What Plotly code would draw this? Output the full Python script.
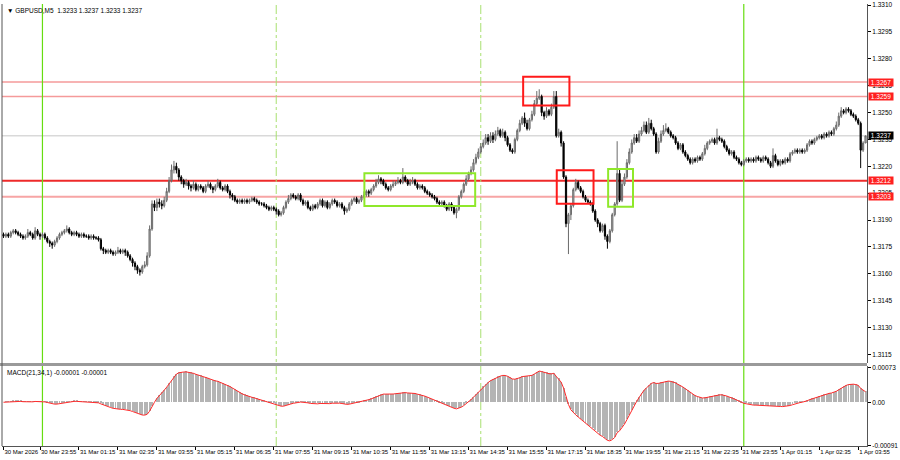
import plotly.graph_objects as go
import pandas as pd
import numpy as np

# ---------------- data ----------------
symbol_title = "▼ GBPUSD,M5  1.3233 1.3237 1.3233 1.3237"
macd_title = "MACD(21,34,1) -0.00001 -0.00001"
start_time = "2026-03-30 22:40"
bar_minutes = 5
first_open_pips = 182          # price = 1.3 + pips/10000

close_pips = [
    181,182,181,183,184,183,182,181,180,181,183,182,180,184,182,181,182,
    180,178,177,176,178,180,182,183,184,185,183,182,183,182,181,182,181,181,180,181,180,180,179,
    174,173,172,173,172,171,172,173,172,173,172,170,168,166,164,162,161,164,165,170,
    185,199,197,200,199,198,201,206,212,218,220,218,214,212,210,211,209,208,210,207,
    209,208,206,209,210,208,207,209,211,208,207,209,206,204,203,201,200,201,200,201,
    200,201,202,201,200,199,199,198,197,196,197,196,195,193,194,197,200,202,204,203,
    202,204,201,199,200,197,196,198,197,199,201,198,200,197,199,201,200,198,199,197,
    195,196,199,201,202,200,201,203,204,206,205,207,209,211,213,212,210,208,207,209,
    210,211,212,211,214,212,210,211,212,210,208,209,208,206,205,204,203,202,200,199,
    200,198,196,199,197,194,196,203,206,210,213,216,218,222,225,228,231,233,236,234,
    237,235,238,240,237,239,236,232,229,228,235,240,244,247,244,241,246,249,255,258,
    259,250,248,251,249,253,259,237,239,233,214,188,193,198,207,211,208,206,203,201,
    200,199,195,190,188,184,187,181,178,184,193,199,216,201,210,214,222,228,233,236,
    234,238,240,243,239,244,241,238,228,234,238,240,241,239,237,236,233,230,232,228,
    226,224,222,224,223,225,224,227,230,233,234,235,233,236,235,234,231,229,227,228,
    225,224,222,221,223,224,223,224,223,225,224,223,225,224,222,220,226,223,221,223,
    222,224,223,227,228,229,228,229,228,229,232,234,233,235,236,237,236,238,237,239,
    238,241,243,248,251,250,252,251,249,248,246,244,229,233,237,
]

wick_up_pips = [
    1,1,1,1,1,1,1,1,1,1,2,1,1,2,1,1,1,1,1,1,
    1,1,1,1,1,1,2,1,1,1,1,1,1,1,1,1,1,1,1,1,
    1,1,1,1,1,1,1,2,1,1,1,1,1,1,1,1,1,1,2,2,
    2,2,2,2,2,2,2,2,2,3,3,2,1,1,1,2,1,1,2,1,
    1,1,1,1,2,1,1,1,2,1,1,1,1,1,1,1,1,1,1,1,
    1,1,1,1,1,1,1,1,1,1,1,1,1,1,1,1,1,2,1,1,
    1,1,1,1,1,1,1,1,1,1,1,1,1,1,1,1,1,1,1,1,
    1,1,1,1,1,1,1,1,2,1,1,1,1,2,2,1,1,1,1,1,
    2,1,2,1,5,1,1,2,2,1,1,1,1,1,1,1,1,1,1,1,
    1,1,1,1,1,1,1,1,1,1,2,1,2,2,2,2,2,2,2,2,
    2,2,2,2,1,2,1,1,1,1,1,1,2,1,3,2,1,2,2,4,
    4,1,1,2,1,2,3,3,2,1,1,1,1,1,1,2,1,1,1,1,
    1,1,1,1,1,1,1,1,1,1,1,1,18,2,2,2,2,2,2,2,
    2,2,2,2,2,3,2,1,1,2,2,3,3,1,1,1,1,1,1,1,
    1,1,1,1,1,1,1,1,2,1,1,1,1,5,1,1,1,1,1,1,
    1,1,1,1,1,1,1,1,1,1,1,1,1,1,1,1,4,1,1,1,
    1,1,1,1,1,1,1,1,1,1,1,1,1,1,1,1,1,1,1,1,
    1,1,2,2,2,1,1,1,1,1,1,1,1,1,0,
]

wick_dn_pips = [
    1,1,1,1,1,1,1,1,1,1,1,1,1,1,1,2,1,1,1,2,
    2,1,1,1,1,1,1,1,1,1,1,1,1,1,1,1,1,1,1,1,
    1,2,1,1,1,1,1,1,1,1,2,1,1,2,2,2,2,1,1,1,
    1,1,2,2,2,2,1,1,1,1,2,2,2,2,2,1,2,2,1,1,
    1,1,1,1,1,1,2,1,1,1,1,1,1,2,2,1,1,1,1,1,
    1,1,1,1,1,1,1,1,1,1,1,1,2,1,1,1,1,1,1,1,
    1,1,1,1,1,1,1,1,1,1,1,1,1,1,1,1,1,1,1,1,
    2,1,1,1,1,1,1,1,1,1,2,1,1,1,1,2,1,1,1,1,
    1,1,1,1,1,1,1,1,1,1,1,1,1,1,1,1,1,1,1,1,
    1,1,1,1,2,1,3,1,1,1,1,1,1,1,1,1,1,1,1,2,
    1,2,1,1,1,1,2,1,1,1,1,1,1,1,2,1,1,1,1,1,
    1,2,2,1,1,1,1,1,1,2,1,2,17,3,1,1,1,1,1,1,
    1,1,1,1,2,1,1,2,4,1,1,1,1,1,1,1,1,1,1,1,
    1,1,1,1,1,1,1,1,1,1,1,1,1,1,1,1,1,1,1,1,
    1,1,1,1,1,1,1,1,1,1,1,1,1,1,1,1,1,1,1,1,
    1,1,1,1,1,1,1,1,1,1,1,1,1,1,1,1,1,1,1,1,
    1,1,1,1,1,1,1,1,1,1,1,1,1,1,1,1,1,1,1,1,
    1,1,1,1,1,1,1,1,1,1,1,1,10,1,0,
]

level_prices = [1.3267, 1.3259, 1.3212, 1.3203]
level_labels = ["1.3267", "1.3259", "1.3212", "1.3203"]
current_price = 1.3237
current_label = "1.3237"
price_ticks = [1.3310, 1.3295, 1.3280, 1.3265, 1.3250, 1.3235, 1.3220,
               1.3205, 1.3190, 1.3175, 1.3160, 1.3145, 1.3130, 1.3115]
macd_ticks = [0.00073, 0.0, -0.00091]
macd_tick_text = ["0.00073", "0.00", "-0.00091"]
day_separators = ["2026-03-31 00:00", "2026-04-01 00:00"]
session_markers = ["2026-03-31 08:00", "2026-03-31 15:00"]

N = len(close_pips)
assert len(wick_up_pips) == N and len(wick_dn_pips) == N, (N, len(wick_up_pips), len(wick_dn_pips))

# ---------------- build OHLC ----------------
times = pd.date_range(start_time, periods=N, freq=f"{bar_minutes}min")
c_p = np.array(close_pips, dtype=float)
o_p = np.concatenate([[first_open_pips], c_p[:-1]])
h_p = np.maximum(o_p, c_p) + np.array(wick_up_pips)
l_p = np.minimum(o_p, c_p) - np.array(wick_dn_pips)
close = 1.3 + c_p / 10000
opn = 1.3 + o_p / 10000
high = 1.3 + h_p / 10000
low = 1.3 + l_p / 10000
idx = np.arange(N)

s = pd.Series(close)
macd = s.ewm(span=21, adjust=False).mean() - s.ewm(span=34, adjust=False).mean()
signal = macd.rolling(1).mean()

def bar_of(t):
    return int(np.argmin(np.abs((times - pd.Timestamp(t)).total_seconds())))

# tick labels on the time axis
tick_idx = [0] + list(range(15, N, 16))
tick_txt = ["30 Mar 2026"] + [f"{times[i].day} {times[i].strftime('%b %H:%M')}" for i in tick_idx[1:]]

FONT = "Liberation Sans"
fig = go.Figure()

fig.add_trace(go.Candlestick(
    x=idx, open=opn, high=high, low=low, close=close,
    xaxis="x", yaxis="y",
    increasing=dict(line=dict(color="#6a6a6a", width=1), fillcolor="#bdbdbd"),
    decreasing=dict(line=dict(color="#000000", width=1), fillcolor="#000000"),
    whiskerwidth=0, showlegend=False, hoverinfo="skip",
))

fig.add_trace(go.Bar(
    x=idx, y=macd, xaxis="x2", yaxis="y2", width=0.4,
    marker=dict(color="#b4b4b4", line=dict(width=0)), showlegend=False, hoverinfo="skip",
))
fig.add_trace(go.Scatter(
    x=idx, y=signal, xaxis="x2", yaxis="y2", mode="lines",
    line=dict(color="#ff2a2a", width=1), showlegend=False, hoverinfo="skip",
))

x_range = [-0.61, 354.6]
shapes = []
# horizontal levels
level_styles = [("#f59a9a", 1.5), ("#f59a9a", 1.5), ("#ee2a2a", 2), ("#f7a5a5", 2)]
for p, (col, w) in zip(level_prices, level_styles):
    shapes.append(dict(type="line", xref="paper", x0=0, x1=1, yref="y", y0=p, y1=p,
                       line=dict(color=col, width=w), layer="below"))
shapes.append(dict(type="line", xref="paper", x0=0, x1=1, yref="y", y0=current_price, y1=current_price,
                   line=dict(color="#d9d9d9", width=1.5), layer="below"))
# vertical separators
for t in day_separators:
    b = bar_of(t)
    shapes.append(dict(type="line", xref="x", x0=b, x1=b, yref="paper", y0=0, y1=1,
                       line=dict(color="#66dd11", width=1.2), layer="below"))
for t in session_markers:
    b = bar_of(t)
    shapes.append(dict(type="line", xref="x", x0=b, x1=b, yref="paper", y0=0, y1=1,
                       line=dict(color="#a8e070", width=1, dash="dashdot"), layer="below"))
# analyst boxes (bar index, price)
boxes = [
    (148.2, 193.7, 1.31978, 1.32161, "#8fe82a"),
    (213.4, 232.4, 1.32539, 1.32700, "#ff1a1a"),
    (227.2, 242.3, 1.31991, 1.32178, "#ff1a1a"),
    (248.3, 258.5, 1.31974, 1.32185, "#8fe82a"),
]
for x0, x1, y0, y1, col in boxes:
    shapes.append(dict(type="rect", xref="x", x0=x0, x1=x1, yref="y", y0=y0, y1=y1,
                       line=dict(color=col, width=2), fillcolor="rgba(0,0,0,0)"))
# panel separator band and frame
shapes.append(dict(type="rect", xref="paper", x0=-0.01, x1=1.0, yref="paper", y0=0.181, y1=0.188,
                   fillcolor="#9a9a9a", line=dict(width=0)))
shapes.append(dict(type="line", xref="paper", x0=0, x1=0, yref="paper", y0=0, y1=1.0,
                   line=dict(color="#555555", width=1)))

annotations = []
for p, lab in zip(level_prices, level_labels):
    annotations.append(dict(xref="paper", x=1, xshift=1, xanchor="left", yref="y", y=p,
                            text=lab, showarrow=False, bgcolor="#ff2020", width=24, borderpad=0,
                            font=dict(family=FONT, size=6.5, color="white")))
annotations.append(dict(xref="paper", x=1, xshift=1, xanchor="left", yref="y", y=current_price,
                        text=current_label, showarrow=False, bgcolor="#000000", width=24, borderpad=0,
                        font=dict(family=FONT, size=6.5, color="white")))
annotations.append(dict(xref="paper", x=0, xshift=3, xanchor="left", yref="paper", y=1, yshift=-1,
                        yanchor="top", text=symbol_title, showarrow=False,
                        font=dict(family=FONT, size=6.5, color="#000000")))
annotations.append(dict(xref="paper", x=0, xshift=3, xanchor="left", yref="paper", y=0.18, yshift=-1,
                        yanchor="top", text=macd_title, showarrow=False,
                        font=dict(family=FONT, size=6.5, color="#000000")))

axis_font = dict(family=FONT, size=6.5, color="#000000")
xtick_font = dict(family=FONT, size=6, color="#000000")
fig.update_layout(
    width=900, height=460,
    margin=dict(l=2, r=27, t=2, b=14),
    paper_bgcolor="white", plot_bgcolor="white",
    bargap=0,
    xaxis=dict(domain=[0, 1], anchor="y", range=x_range, showticklabels=False, showgrid=False,
               zeroline=False, showline=False, rangeslider=dict(visible=False), fixedrange=True),
    xaxis2=dict(domain=[0, 1], anchor="y2", matches="x", range=x_range, showgrid=False, zeroline=False,
                tickvals=tick_idx, ticktext=tick_txt, ticks="outside", ticklen=3, tickcolor="#000",
                tickangle=0, ticklabelposition="outside right", tickfont=xtick_font,
                showline=True, linecolor="#555555", linewidth=1),
    yaxis=dict(domain=[0.187, 1], anchor="x", side="right", range=[1.3110, 1.33106],
               tickvals=price_ticks, tickformat=".4f", ticks="outside", ticklen=3, tickcolor="#000",
               tickfont=axis_font, showgrid=False, zeroline=False,
               showline=True, linecolor="#555555", linewidth=1),
    yaxis2=dict(domain=[0, 0.18], anchor="x2", side="right", range=[-0.000926, 0.000758],
                tickvals=macd_ticks, ticktext=macd_tick_text, ticks="outside", ticklen=3, tickcolor="#000",
                tickfont=axis_font, showgrid=False, zeroline=False,
                showline=True, linecolor="#555555", linewidth=1),
    shapes=shapes, annotations=annotations,
)

fig.write_html("out.html", config={"displayModeBar": False},
               post_script="document.body.style.margin='0';")
